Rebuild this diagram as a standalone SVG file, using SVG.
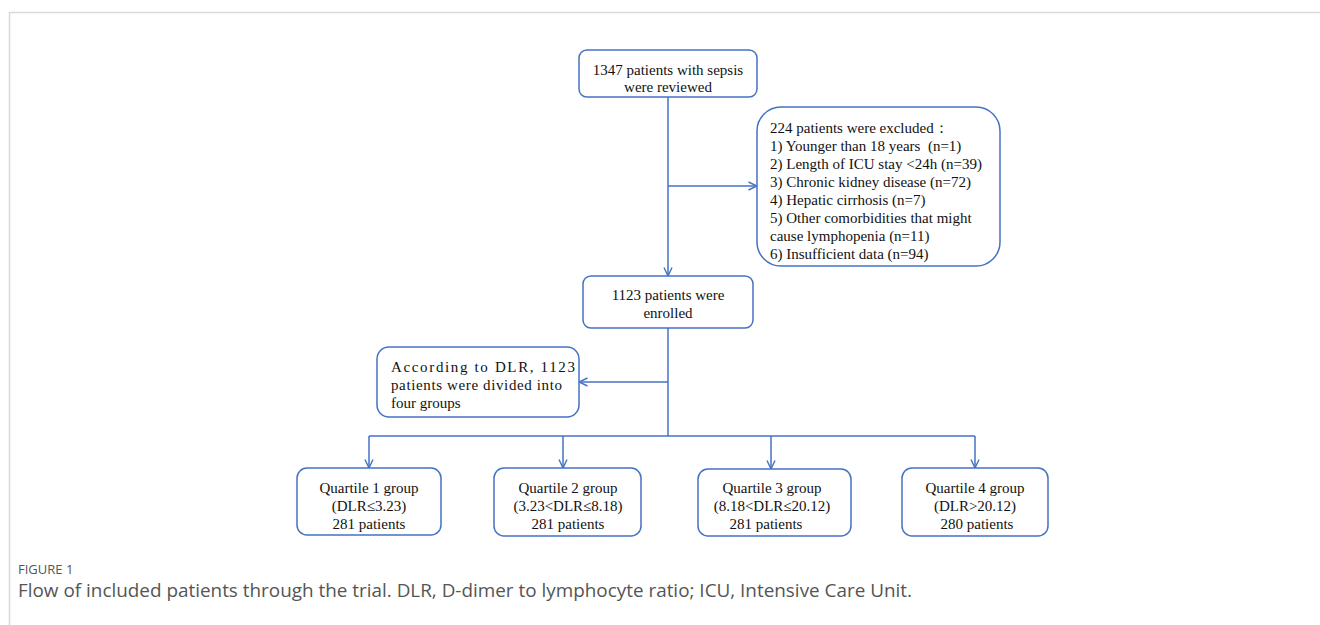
<svg xmlns="http://www.w3.org/2000/svg" width="1320" height="625" viewBox="0 0 1320 625">
<defs>
<marker id="arr" viewBox="0 0 10 10" refX="9.5" refY="5" markerWidth="10" markerHeight="10" markerUnits="userSpaceOnUse" orient="auto">
<path d="M1,1 L9.5,5 L1,9" fill="none" stroke="#4472C4" stroke-width="1.4"/>
</marker>
<style>
.box{fill:#fff;stroke:#4472C4;stroke-width:1.5}
.t{font-family:"Liberation Serif","Times New Roman",serif;font-size:15px;fill:#111;white-space:pre}
.c{text-anchor:middle}
.ln{fill:none;stroke:#4472C4;stroke-width:1.5}
.cap1{font-family:"Open Sans","Lato",sans-serif;font-size:13px;fill:#555}
.cap2{font-family:"Open Sans","Lato",sans-serif;font-size:18px;fill:#555}
</style>
</defs>
<rect x="0" y="0" width="1320" height="625" fill="#fff"/>
<path d="M9.5,625 L9.5,12.5 L1320,12.5" fill="none" stroke="#d9d9d9" stroke-width="1.5"/>

<g id="connectors">
<line class="ln" x1="668" y1="97" x2="668" y2="276" marker-end="url(#arr)"/>
<line class="ln" x1="668" y1="186" x2="757" y2="186" marker-end="url(#arr)"/>
<line class="ln" x1="668" y1="328" x2="668" y2="436"/>
<line class="ln" x1="668" y1="382" x2="579" y2="382" marker-end="url(#arr)"/>
<line class="ln" x1="369" y1="436" x2="975" y2="436"/>
<line class="ln" x1="369" y1="436" x2="369" y2="468" marker-end="url(#arr)"/>
<line class="ln" x1="563" y1="436" x2="563" y2="468" marker-end="url(#arr)"/>
<line class="ln" x1="771" y1="436" x2="771" y2="469" marker-end="url(#arr)"/>
<line class="ln" x1="975" y1="436" x2="975" y2="468" marker-end="url(#arr)"/>
</g>

<g id="reviewed">
<rect class="box" x="579" y="50" width="178" height="47" rx="8"/>
<text class="t c" x="668" y="75">1347 patients with sepsis</text>
<text class="t c" x="668" y="92">were reviewed</text>
</g>

<g id="excluded">
<rect class="box" x="757" y="107" width="243" height="159" rx="24"/>
<text class="t" x="770" y="133">224 patients were excluded：</text>
<text class="t" x="770" y="151" xml:space="preserve">1) Younger than 18 years  (n=1)</text>
<text class="t" x="770" y="169">2) Length of ICU stay &lt;24h (n=39)</text>
<text class="t" x="770" y="187">3) Chronic kidney disease (n=72)</text>
<text class="t" x="770" y="205">4) Hepatic cirrhosis (n=7)</text>
<text class="t" x="770" y="223">5) Other comorbidities that might</text>
<text class="t" x="770" y="241">cause lymphopenia (n=11)</text>
<text class="t" x="770" y="259">6) Insufficient data (n=94)</text>
</g>

<g id="enrolled">
<rect class="box" x="583" y="276" width="170" height="52" rx="8"/>
<text class="t c" x="668" y="300">1123 patients were</text>
<text class="t c" x="668" y="318">enrolled</text>
</g>

<g id="divided">
<rect class="box" x="377" y="347" width="202" height="70" rx="12"/>
<text class="t" x="391" y="372" textLength="184" lengthAdjust="spacing">According to DLR, 1123</text>
<text class="t" x="391" y="390" textLength="171" lengthAdjust="spacing">patients were divided into</text>
<text class="t" x="391" y="408">four groups</text>
</g>

<g id="q1">
<rect class="box" x="297" y="468" width="144" height="67" rx="10"/>
<text class="t c" x="369" y="493">Quartile 1 group</text>
<text class="t c" x="369" y="511">(DLR≤3.23)</text>
<text class="t c" x="369" y="529">281 patients</text>
</g>

<g id="q2">
<rect class="box" x="494" y="468" width="147" height="68" rx="10"/>
<text class="t c" x="568" y="493">Quartile 2 group</text>
<text class="t c" x="568" y="511">(3.23&lt;DLR≤8.18)</text>
<text class="t c" x="568" y="529">281 patients</text>
</g>

<g id="q3">
<rect class="box" x="698" y="469" width="153" height="67" rx="10"/>
<text class="t c" x="772" y="493">Quartile 3 group</text>
<text class="t c" x="772" y="511">(8.18&lt;DLR≤20.12)</text>
<text class="t c" x="766" y="529">281 patients</text>
</g>

<g id="q4">
<rect class="box" x="902" y="468" width="146" height="68" rx="10"/>
<text class="t c" x="975" y="493">Quartile 4 group</text>
<text class="t c" x="975" y="511">(DLR&gt;20.12)</text>
<text class="t c" x="977" y="529">280 patients</text>
</g>

<g id="caption">
<text class="cap1" x="18" y="574">FIGURE 1</text>
<text class="cap2" x="18" y="597" textLength="894" lengthAdjust="spacingAndGlyphs">Flow of included patients through the trial. DLR, D-dimer to lymphocyte ratio; ICU, Intensive Care Unit.</text>
</g>
</svg>
